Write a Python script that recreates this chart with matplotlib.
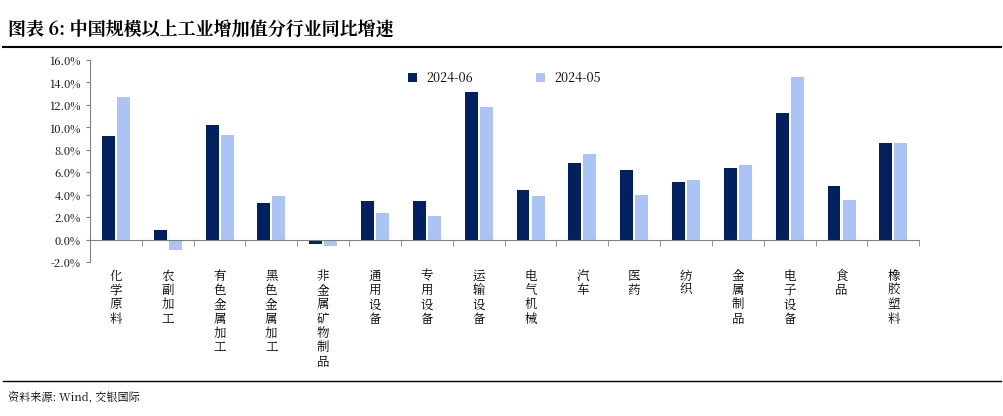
import matplotlib
matplotlib.use("Agg")
import matplotlib.pyplot as plt
from matplotlib import font_manager as fm
import numpy as np

cjk = [f.name for f in fm.fontManager.ttflist if 'CJK' in f.name]
pref = [n for n in cjk if 'SC' in n] + cjk
plt.rcParams['font.family'] = 'sans-serif'
plt.rcParams['font.sans-serif'] = (pref[:1] if pref else []) + ['Noto Sans CJK SC', 'DejaVu Sans']
plt.rcParams['axes.unicode_minus'] = False

categories = ["化学原料", "农副加工", "有色金属加工", "黑色金属加工", "非金属矿物制品", "通用设备", "专用设备",
              "运输设备", "电气机械", "汽车", "医药", "纺织", "金属制品", "电子设备", "食品", "橡胶塑料"]
s_jun = [9.2, 0.9, 10.2, 3.3, -0.4, 3.4, 3.4, 13.1, 4.4, 6.8, 6.2, 5.1, 6.4, 11.3, 4.8, 8.6]
s_may = [12.7, -0.9, 9.3, 3.9, -0.6, 2.4, 2.1, 11.8, 3.9, 7.6, 4.0, 5.3, 6.6, 14.5, 3.5, 8.6]
yticks = [-2, 0, 2, 4, 6, 8, 10, 12, 14, 16]

fig = plt.figure(figsize=(10.04, 4.16), dpi=100)
ax = fig.add_axes([0.0896, 0.370, 0.826, 0.486])
x = np.arange(len(categories))
w = 0.25
ax.bar(x - w/2 - 0.02, s_jun, w, color="#002060", label="2024-06")
ax.bar(x + w/2 + 0.02, s_may, w, color="#A9C4F5", label="2024-05")
ax.set_ylim(-2, 16)
ax.set_xlim(-0.5, len(categories) - 0.5)
ax.set_yticks(yticks)
ax.set_yticklabels([f"{v:.1f}%" for v in yticks], fontsize=8)
ax.tick_params(axis='y', length=3, color='#808080')
ax.spines['top'].set_visible(False)
ax.spines['right'].set_visible(False)
ax.spines['bottom'].set_position(('data', 0))
ax.spines['left'].set_color('#808080')
ax.spines['bottom'].set_color('#808080')
ax.set_xticks(np.arange(len(categories) + 1) - 0.5, minor=True)
ax.tick_params(axis='x', which='minor', length=4, color='#808080')
ax.tick_params(axis='x', which='major', length=0)
ax.set_xticks(x)
ax.set_xticklabels([])
for i, c in enumerate(categories):
    ax.text(i, -2.6, "\n".join(c), ha='center', va='top', fontsize=9, linespacing=1.05)
ax.legend(loc='upper center', bbox_to_anchor=(0.5, 1.0), ncol=2, frameon=False, fontsize=9,
          handlelength=0.7, handleheight=0.7, columnspacing=5)
fig.text(0.008, 0.915, "图表 6: 中国规模以上工业增加值分行业同比增速", fontsize=13, fontweight='bold')
fig.add_artist(plt.Line2D([0.003, 0.997], [0.888, 0.888], color='black', lw=1.5))
fig.add_artist(plt.Line2D([0.003, 0.997], [0.083, 0.083], color='black', lw=1))
fig.text(0.008, 0.035, "资料来源: Wind, 交银国际", fontsize=8, style='italic')
fig.savefig("out.png", dpi=100)
